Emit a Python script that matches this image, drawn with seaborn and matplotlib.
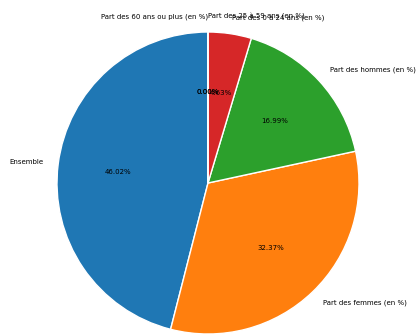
import matplotlib
matplotlib.use("Agg")
import matplotlib.pyplot as plt
import seaborn as sns

labels = [
    "Ensemble",
    "Part des femmes (en %)",
    "Part des hommes (en %)",
    "Part des 0 à 24 ans (en %)",
    "Part des 25 à 59 ans (en %)",
    "Part des 60 ans ou plus (en %)",
]
values = [46.02, 32.37, 16.99, 4.63, 0.0, 0.0]

sns.set_style("white")
colors = sns.color_palette("tab10", len(values))

fig = plt.figure(figsize=(4.17, 3.34), dpi=100)
# pie centre ~ (208, 151) px from bottom-left, radius ~151 px
half = 1.05
size_px = 2 * half * 151
ax = fig.add_axes([(208 - size_px / 2) / 417, (151 - size_px / 2) / 334,
                   size_px / 417, size_px / 334])
wedges, texts, autotexts = ax.pie(values, labels=labels, colors=colors,
                                  autopct="%1.2f%%", startangle=90,
                                  textprops={"fontsize": 5, "color": "black"})
# the two empty slices sit at the top: one label goes left, the other right
texts[4].set_ha("left")
texts[5].set_ha("right")
ax.set_xlim(-half, half)
ax.set_ylim(-half, half)
ax.set_aspect("equal")
ax.axis("off")

fig.savefig("out.png", dpi=100)
